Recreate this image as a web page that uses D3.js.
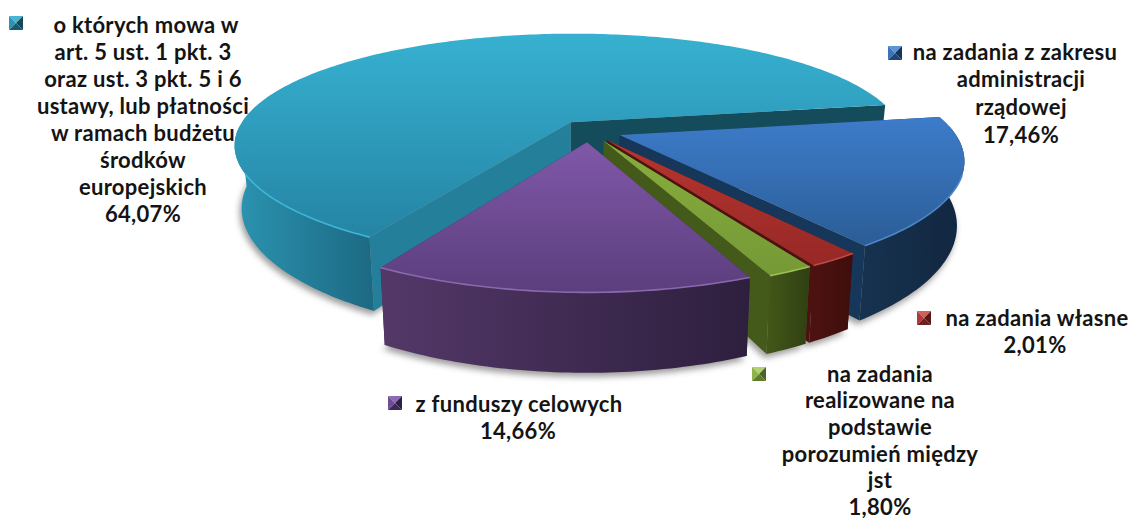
<!DOCTYPE html>
<html>
<head>
<meta charset="utf-8">
<script src="https://cdn.jsdelivr.net/npm/d3@7"></script>
<style>
  html, body { margin: 0; padding: 0; background: #fff; }
  text { font-family: Lato, "Open Sans", sans-serif; font-size: 22px; font-weight: 700; letter-spacing: 0.3px; fill: #141414; }
</style>
</head>
<body>
<div id="chart-area"></div>
<script>
// draw order of the pie: clockwise starting at the upper right
const categories = ["administracja", "wlasne", "porozumienia", "celowe", "ustawa"];
const shares = [17.46, 2.01, 1.80, 14.66, 64.07];
const valueLabels = ["17,46%", "2,01%", "1,80%", "14,66%", "64,07%"];
const labelLines = [
  ["na zadania z zakresu", "administracji", "rządowej"],
  ["na zadania własne"],
  ["na zadania", "realizowane na", "podstawie", "porozumień między", "jst"],
  ["z funduszy celowych"],
  ["o których mowa w", "art. 5 ust. 1 pkt. 3", "oraz ust. 3 pkt. 5 i 6", "ustawy, lub płatności", "w ramach budżetu", "środków", "europejskich"]
];

const WIDTH = 1133, HEIGHT = 520;
const CX = 589, CY = 131;
const RX = 334, RY = 111.5;
const PERSP = 0.22, PERSP_X = 0.2, EXPLODE = 0.098, DEPTH = 61, BOTTOM_SCALE = 0.98;

const styles = {
  administracja: { top: ["#3d7cca", "#2b5d96"], wall: ["#16324f", "#12263f"], cut: "#17375a", rim: "#4c86c8", mark: ["#5f93d4", "#3c74ba", "#1f4674", "#16345a"] },
  wlasne: { top: ["#b8352f", "#962826"], wall: ["#4c1210", "#3e0e0c"], cut: "#4c1210", rim: "#c04a44", mark: ["#d0605a", "#b23a36", "#702020", "#581816"] },
  porozumienia: { top: ["#88ad3d", "#759936"], wall: ["#425618", "#303f12"], cut: "#445a1a", rim: "#9dbd55", mark: ["#b4cf74", "#8fb24a", "#5f7c2c", "#4a6222"] },
  celowe: { top: ["#8058a9", "#5b3e7d"], wall: ["#533868", "#2e1f3e"], cut: "#3c2a52", rim: "#8a68ad", mark: ["#8d6ab4", "#6e4d94", "#3e2a58", "#2e1f44"] },
  ustawa: { top: ["#37b1d1", "#2584a4"], wall: ["#2b94b1", "#1d6a84"], cut: "#154c5b", cutFront: "#237f9a", rim: "#3fb6d6", mark: ["#4ab5d2", "#2e93b2", "#175a70", "#124858"] }
};

// where each legend text block sits: centre x per line, first line y, marker corner
const legendLayout = {
  administracja: { y: 52, lineH: 27.6, centers: [1015, 1021, 1021, 1021], mx: 888, my: 46 },
  wlasne: { y: 318, lineH: 27.6, centers: [1037, 1035], mx: 917, my: 311 },
  porozumienia: { y: 374, lineH: 26.6, centers: [880, 880, 880, 880, 880, 880], mx: 752, my: 367 },
  celowe: { y: 404, lineH: 27.6, centers: [519, 518], mx: 388, my: 396 },
  ustawa: { y: 25, lineH: 27.1, centers: [146, 143, 143, 143, 143, 143, 143, 143], mx: 9, my: 16 }
};

const svg = d3.select("#chart-area").append("svg")
  .attr("width", WIDTH)
  .attr("height", HEIGHT)
  .style("display", "block");

const defs = svg.append("defs");

defs.append("filter")
  .attr("id", "soft")
  .attr("x", "-10%").attr("y", "-10%").attr("width", "120%").attr("height", "130%")
  .append("feGaussianBlur").attr("stdDeviation", 3);

defs.append("filter")
  .attr("id", "rimBlur")
  .append("feGaussianBlur").attr("stdDeviation", 0.7);

const pie = d3.pie()
  .sort(null)
  .startAngle((80.5 * Math.PI) / 180)
  .endAngle((440.5 * Math.PI) / 180);

// d3 angles start at 12 o'clock, ground angle starts at +x
const ground = a => a - Math.PI / 2;

function project(u, v) {
  return [CX + (RX * u) / (1 - PERSP_X * v), CY + (RY * v) / (1 - PERSP * v)];
}
function lowered(u, v) {
  const p = project(u, v);
  return [CX + (p[0] - CX) * BOTTOM_SCALE, p[1] + DEPTH / (1 - PERSP * v)];
}

const line = d3.line();

const slices = pie(shares).map((d, i) => {
  const mid = ground((d.startAngle + d.endAngle) / 2);
  const ou = EXPLODE * Math.cos(mid), ov = EXPLODE * Math.sin(mid);
  const a0 = ground(d.startAngle), a1 = ground(d.endAngle);
  const steps = Math.max(4, Math.ceil((a1 - a0) * 60));
  const rimGround = d3.range(steps + 1).map(k => {
    const t = a0 + ((a1 - a0) * k) / steps;
    return [ou + Math.cos(t), ov + Math.sin(t)];
  });
  return {
    name: categories[i],
    style: styles[categories[i]],
    apexGround: [ou, ov],
    rimGround
  };
});

const project2 = p => project(p[0], p[1]);
const lowered2 = p => lowered(p[0], p[1]);

function addGradient(id, colors, x1, y1, x2, y2) {
  const g = defs.append("linearGradient")
    .attr("id", id)
    .attr("gradientUnits", "userSpaceOnUse")
    .attr("x1", x1).attr("y1", y1).attr("x2", x2).attr("y2", y2);
  g.append("stop").attr("offset", 0).attr("stop-color", colors[0]);
  g.append("stop").attr("offset", 1).attr("stop-color", colors[1]);
}

// shadow under the whole pie
const shadow = svg.append("g").attr("filter", "url(#soft)").attr("opacity", 0.5);
slices.forEach(sl => {
  const pts = [lowered2(sl.apexGround)].concat(sl.rimGround.map(lowered2));
  shadow.append("path")
    .attr("d", line(pts) + "Z")
    .attr("fill", "#3a3a3a")
    .attr("transform", "translate(-2,4)");
});

// teal goes first because it sits behind the others
const drawOrder = ["ustawa", "administracja", "wlasne", "porozumienia", "celowe"];

drawOrder.forEach(name => {
  const sl = slices.find(s => s.name === name);
  const st = sl.style;
  const g = svg.append("g");

  const apexTop = project2(sl.apexGround);
  const apexBot = lowered2(sl.apexGround);
  const topPts = sl.rimGround.map(project2);
  const botPts = sl.rimGround.map(lowered2);
  const first = topPts[0], last = topPts[topPts.length - 1];
  const firstBot = botPts[0], lastBot = botPts[botPts.length - 1];

  // faces of the cut
  g.append("path")
    .attr("d", line([apexTop, last, lastBot, apexBot]) + "Z")
    .attr("fill", st.cut);
  g.append("path")
    .attr("d", line([apexTop, first, firstBot, apexBot]) + "Z")
    .attr("fill", st.cutFront || st.cut);

  // outer wall: only the front half shows
  const frontTop = [], frontBot = [];
  sl.rimGround.forEach((p, k) => {
    if (p[1] > -0.05) { frontTop.push(topPts[k]); frontBot.push(botPts[k]); }
  });
  const xs = frontTop.map(p => p[0]);
  addGradient("wall-" + name, st.wall, d3.min(xs), 0, d3.max(xs), 0);
  g.append("path")
    .attr("d", line(frontTop.concat(frontBot.slice().reverse())) + "Z")
    .attr("fill", `url(#wall-${name})`);

  // top surface
  const ys = topPts.concat([apexTop]).map(p => p[1]);
  addGradient("top-" + name, st.top, 0, d3.min(ys), 0, d3.max(ys));
  g.append("path")
    .attr("d", line([apexTop].concat(topPts)) + "Z")
    .attr("fill", `url(#top-${name})`);

  // light bevel on the front rim only
  const rimPts = topPts.filter((p, k) => sl.rimGround[k][1] > 0.35);
  g.append("path")
    .attr("d", line(rimPts))
    .attr("fill", "none")
    .attr("stroke", st.rim)
    .attr("stroke-width", 1.6)
    .attr("filter", "url(#rimBlur)");
});

// legend labels with the little bevelled markers
categories.forEach((name, i) => {
  const lay = legendLayout[name];
  const lines = labelLines[i].concat([valueLabels[i]]);
  const g = svg.append("g");

  g.selectAll("text")
    .data(lines)
    .join("text")
    .attr("x", (d, k) => lay.centers[k])
    .attr("y", (d, k) => lay.y + k * lay.lineH)
    .attr("dy", "0.35em")
    .attr("text-anchor", "middle")
    .text(d => d);

  const m = styles[name].mark;
  const size = 14;
  const x0 = lay.mx, y0 = lay.my, x1 = x0 + size, y1 = y0 + size;
  const c = [x0 + size / 2, y0 + size / 2];
  const facets = [
    [[x0, y0], [x1, y0], c],
    [[x0, y0], [x0, y1], c],
    [[x1, y0], [x1, y1], c],
    [[x0, y1], [x1, y1], c]
  ];
  g.selectAll("path")
    .data(facets)
    .join("path")
    .attr("d", d => line(d) + "Z")
    .attr("fill", (d, k) => [m[0], m[1], m[3], m[2]][k]);
});
</script>
</body>
</html>
